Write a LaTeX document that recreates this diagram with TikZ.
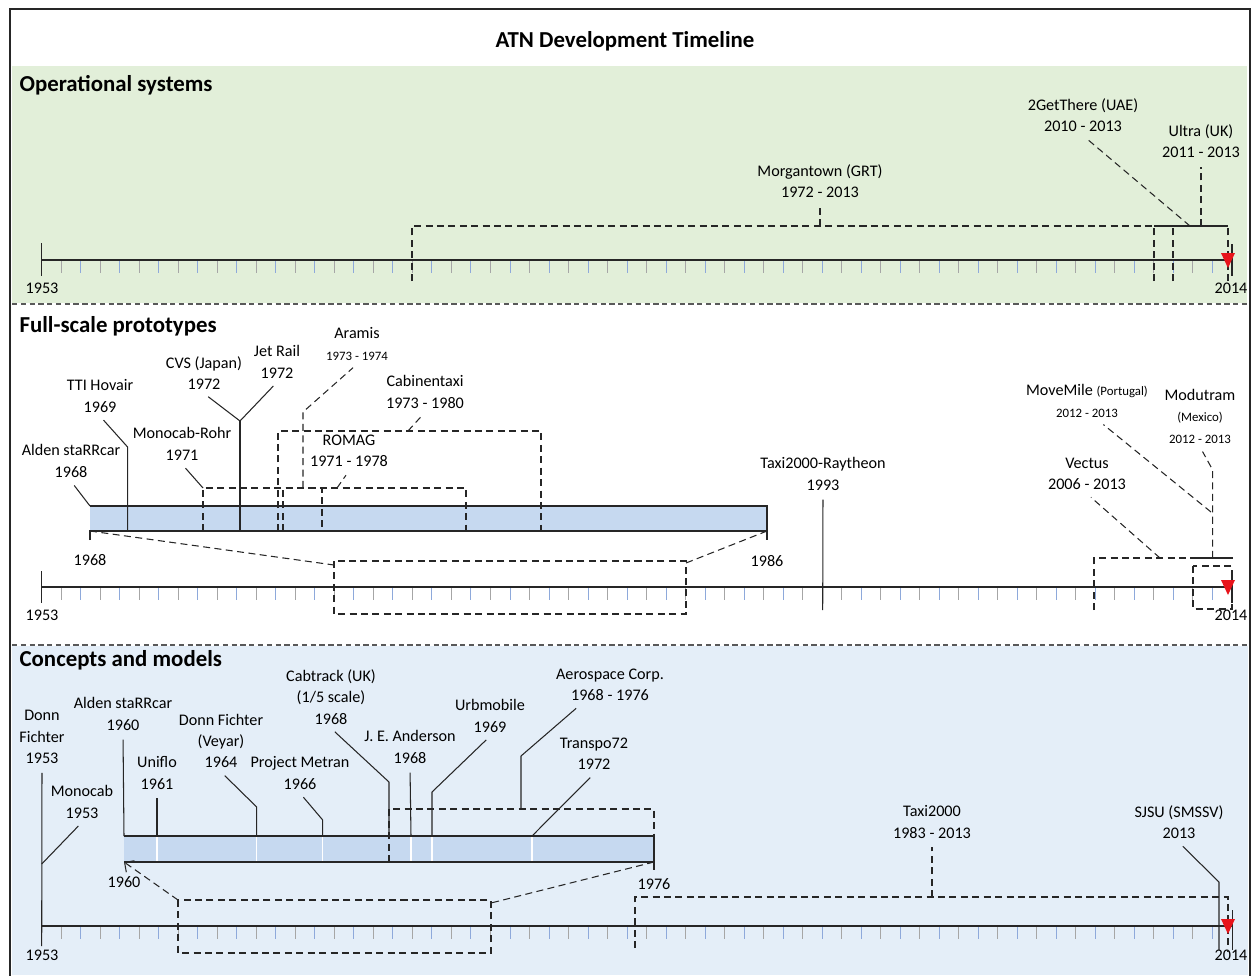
\documentclass[tikz,border=0pt]{standalone}
\usepackage{fontspec}
\setmainfont{Carlito}
\usetikzlibrary{arrows.meta, positioning, calc}

\definecolor{opgreen}{HTML}{E2EFD9}
\definecolor{conblue}{HTML}{E4EEF8}
\definecolor{barblue}{HTML}{C6D9F0}
\definecolor{tickblue}{HTML}{8EA9DB}
\definecolor{tickgrey}{HTML}{A6A6A6}
\definecolor{nowred}{HTML}{E8141B}
\newcommand{\smalltxt}{\fontsize{7.3}{9.5}\selectfont}

\begin{document}
\begin{tikzpicture}[
    x=0.02cm, y=-0.02cm,
    lbl/.style={align=center, inner sep=2pt, font=\fontsize{9.2}{12.2}\selectfont},
    hdr/.style={anchor=west, inner sep=3pt, font=\fontsize{13}{15}\selectfont\bfseries},
    axisline/.style={line width=0.9pt, black!85},
    edge/.style={line width=0.7pt, black!85},
    yeartick/.style={line width=0.5pt},
    lead/.style={line width=0.6pt, black!85, shorten >=3pt},
    dlead/.style={lead, dash pattern=on 4pt off 2.5pt},
    span/.style={line width=0.6pt, black!85, dash pattern=on 4pt off 2.5pt},
    sepline/.style={line width=0.6pt, black!65, dash pattern=on 3pt off 2pt},
    nowmark/.style={fill=nowred, draw=none},
]
    \useasboundingbox (0,0) rectangle (1252,975);

    % bands and frame
    \fill[opgreen] (12,66) rectangle (1247,303);
    \fill[conblue] (12,646) rectangle (1248,975);
    \draw[sepline] (12,304) -- (1250,304);
    \draw[sepline] (12,645) -- (1250,645);
    \draw[line width=1.5pt, black!85] (10,976) -- (10,9) -- (1250,9) -- (1250,976);

    \node[font=\fontsize{13}{15}\selectfont\bfseries] (title) at (625,41) {ATN Development Timeline};

    % year axes
    \foreach \ay in {260,587,926} {
        \foreach \i in {1,3,...,59}
            \draw[yeartick, tickgrey] ({41.7+19.51*\i},\ay) -- ++(0,13);
        \foreach \i in {2,4,...,60}
            \draw[yeartick, tickblue] ({41.7+19.51*\i},\ay) -- ++(0,13);
        \draw[axisline] (41.7,\ay) -- (1232,\ay);
    }

    % operational systems
    \node[hdr] (ops) at (14,85) {Operational systems};
    \draw[axisline] (41.7,243) -- (41.7,276);
    \draw[axisline] (1232,244) -- (1232,276);
    \node[lbl] (ops53) at (42,288) {1953};
    \node[lbl] (ops14) at (1231,288) {2014};

    \node[lbl] (morg) at (820,181) {Morgantown (GRT)\\1972 - 2013};
    \node[lbl] (gett) at (1083,115) {2GetThere (UAE)\\2010 - 2013};
    \node[lbl] (ultra) at (1201,141) {Ultra (UK)\\2011 - 2013};
    \draw[span] (412,281) -- (412,226) -- (1154,226);
    \draw[span] (1154,281) -- (1154,226);
    \draw[span] (1173,281) -- (1173,226);
    \draw[span] (1228,281) -- (1228,226);
    \draw[edge] (1154,226) -- (1228,226);
    \draw[dlead] (820,226) -- (morg.south);
    \draw[dlead] (1190,226) -- (gett.south);
    \draw[dlead] (1201,226) -- (ultra.south);
    \fill[nowmark] (1221,253) -- (1235,253) -- (1228,268) -- cycle;

    % full-scale prototypes
    \node[hdr] (proto) at (14,326) {Full-scale prototypes};
    \draw[axisline] (41.7,571) -- (41.7,603);
    \draw[axisline] (1232,571) -- (1232,603);
    \node[lbl] (pro53) at (42,615) {1953};
    \node[lbl] (pro14) at (1231,615) {2014};

    \fill[barblue] (90,506) rectangle (767,531);
    \draw[edge] (90,506) -- (767,506) -- (767,540);
    \draw[edge] (90,540) -- (90,531) -- (767,531);
    \node[lbl] (bar68) at (90,560) {1968};
    \node[lbl] (bar86) at (767,561) {1986};
    \draw[span] (90,531) -- (334,565);
    \draw[span] (767,531) -- (686,563);
    \draw[span] (334,561) rectangle (686,614);

    \node[lbl] (alden68) at (71,461) {Alden staRRcar\\1968};
    \node[lbl] (hovair) at (100,396) {TTI Hovair\\1969};
    \node[lbl] (rohr) at (182,444) {Monocab-Rohr\\1971};
    \node[lbl] (cvs) at (204,373) {CVS (Japan)\\1972};
    \node[lbl] (jetrail) at (277,362) {Jet Rail\\1972};
    \node[lbl] (aramis) at (357,344) {Aramis\\{\smalltxt 1973 - 1974}};
    \node[lbl] (cabinen) at (425,392) {Cabinentaxi\\1973 - 1980};
    \node[lbl] (romag) at (349,451) {ROMAG\\1971 - 1978};
    \node[lbl] (rayth) at (823,474) {Taxi2000-Raytheon\\1993};

    \draw[lead] (90,506) -- (alden68.south);
    \draw[lead] (127.6,531) -- (127.6,447) -- (hovair.south);
    \draw[span] (203,531) -- (203,488) -- (466,488) -- (466,531);
    \draw[lead] (203,488) -- (rohr.south);
    \draw[edge] (240,531) -- (240,421);
    \draw[lead] (240,421) -- (cvs.south);
    \draw[lead] (240,421) -- (jetrail.south);
    \draw[span] (278,531) -- (278,431) -- (541,431) -- (541,531);
    \draw[dlead] (408,431) -- (cabinen.south);
    \draw[span] (283,531) -- (283,488) -- (322,488) -- (322,531);
    \draw[dlead] (303,488) -- (303,412) -- (aramis.south);
    \draw[dlead] (337,488) -- (romag.south);
    \draw[lead] (822.7,610) -- (rayth.south);

    \node[lbl] (vectus) at (1087,474) {Vectus\\2006 - 2013};
    \node[lbl] (movemile) at (1087,401) {MoveMile {\smalltxt (Portugal)}\\{\smalltxt 2012 - 2013}};
    \node[lbl] (modutram) at (1200,416) {Modutram\\{\smalltxt (Mexico)}\\{\smalltxt 2012 - 2013}};
    \draw[span] (1094,610) -- (1094,558) -- (1193,558);
    \draw[edge] (1193,558) -- (1233,558);
    \draw[span] (1193,566) rectangle (1232,609);
    \draw[dlead] (1160,558) -- (vectus.south);
    \draw[dlead] (1212.7,558) -- (1212.7,470) -- (modutram.south);
    \draw[dlead] (1211,512) -- ([xshift=7pt]movemile.south);
    \fill[nowmark] (1221,580) -- (1235,580) -- (1228,595) -- cycle;

    % concepts and models
    \node[hdr] (concepts) at (14,660) {Concepts and models};
    \draw[axisline] (1232.5,910) -- (1232.5,950);
    \node[lbl] (con53) at (42,955) {1953};
    \node[lbl] (con14) at (1231,955) {2014};

    \fill[barblue] (124,836) rectangle (654,862);
    \foreach \wx in {157,256.7,322.7,411,432,532}
        \draw[white, line width=0.6pt] (\wx,837) -- (\wx,861);
    \draw[edge] (124,836) -- (654,836) -- (654,870);
    \draw[edge] (124,862) -- (654,862);
    \node[lbl] (bar60) at (124,882) {1960};
    \node[lbl] (bar76) at (654,884) {1976};
    \draw[span, -{Straight Barb[length=4pt]}] (178,900) -- (124,862);
    \draw[span] (654,862) -- (491,903);
    \draw[span] (178,900) rectangle (491,953);

    \node[lbl] (donn53) at (42,737) {Donn\\Fichter\\1953};
    \node[lbl] (mono53) at (82,802) {Monocab\\1953};
    \node[lbl] (alden60) at (123,714) {Alden staRRcar\\1960};
    \node[lbl] (uniflo) at (157,773) {Uniflo\\1961};
    \node[lbl] (veyar) at (221,741) {Donn Fichter\\(Veyar)\\1964};
    \node[lbl] (metran) at (300,773) {Project Metran\\1966};
    \node[lbl] (cabtrack) at (331,697) {Cabtrack (UK)\\(1/5 scale)\\1968};
    \node[lbl] (anderson) at (410,747) {J. E. Anderson\\1968};
    \node[lbl] (urbmob) at (490,716) {Urbmobile\\1969};
    \node[lbl] (aero) at (610,685) {Aerospace Corp.\\1968 - 1976};
    \node[lbl] (transpo) at (594,754) {Transpo72\\1972};
    \node[lbl] (taxi) at (932,822) {Taxi2000\\1983 - 2013};
    \node[lbl] (sjsu) at (1179,822) {SJSU (SMSSV)\\2013};

    \draw[lead] (41.7,946) -- (donn53.south);
    \draw[lead] (41.7,864) -- (mono53.south);
    \draw[lead] (124,836) -- (alden60.south);
    \draw[lead] (157,836) -- (uniflo.south);
    \draw[lead] (256.7,836) -- (256.7,807) -- (veyar.south);
    \draw[lead] (322.7,836) -- (322.7,820) -- (metran.south);
    \draw[span] (389,862) -- (389,809) -- (654,809) -- (654,836);
    \draw[lead] (389,836) -- (389,782) -- (cabtrack.south);
    \draw[lead] (411,836) -- (anderson.south);
    \draw[lead] (432,836) -- (432,792) -- (urbmob.south);
    \draw[lead] (521,809) -- (521,756) -- ([xshift=-17pt]aero.south);
    \draw[lead] (532,836) -- (transpo.south);
    \draw[span] (635,948) -- (635,897) -- (1228,897) -- (1228,952);
    \draw[dlead] (932,897) -- (taxi.south);
    \draw[lead] (1219,950) -- (1219,882) -- (sjsu.south);
    \fill[nowmark] (1221,919) -- (1235,919) -- (1228,934) -- cycle;
\end{tikzpicture}
\end{document}
